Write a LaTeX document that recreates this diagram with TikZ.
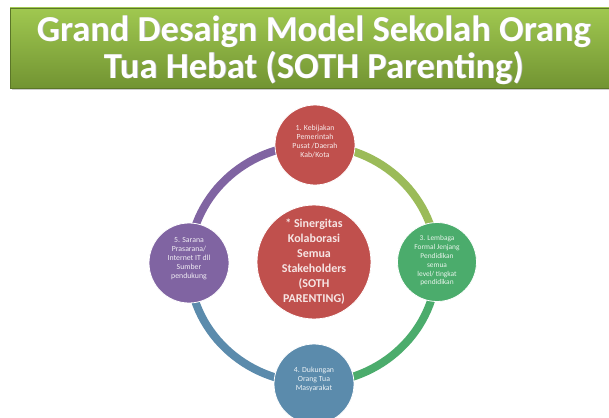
\documentclass[tikz,border=0pt]{standalone}
\usepackage{fontspec}
\setmainfont{Carlito}
\definecolor{cred}{RGB}{192,80,77}
\definecolor{colive}{RGB}{155,187,89}
\definecolor{cgreen}{RGB}{75,172,108}
\definecolor{cblue}{RGB}{91,139,172}
\definecolor{cpurple}{RGB}{128,100,162}
\definecolor{ttop}{RGB}{160,200,80}
\definecolor{tbot}{RGB}{114,148,50}
\tikzset{
  item/.style={circle, draw=white, line width=0.8pt, fill=#1, minimum size=80pt, inner sep=0pt},
  itemtext/.style={text=white!88!#1, font=\fontsize{7.8}{9}\selectfont, align=center, inner sep=0pt},
  seg/.style={line width=8pt, draw=#1},
}
\begin{document}
\begin{tikzpicture}[x=1pt,y=-1pt]
\useasboundingbox (0,0) rectangle (609,417);
\clip (0,0) rectangle (609,417);
\fill[white] (0,0) rectangle (609,417);
% title
\fill[black!20] (12,10) rectangle (611,90);
\shade[top color=ttop, bottom color=tbot, draw=tbot!80!black, line width=0.5pt] (10,8) rectangle (612,88) ;
\node[text=black!30, font=\bfseries\fontsize{36.5}{37}\selectfont, align=center] at (314.6,50.6)
  {Grand Desaign Model Sekolah Orang\\Tua Hebat (SOTH Parenting)};
\node (title)[text=white, font=\bfseries\fontsize{36.5}{37}\selectfont, align=center] at (313.8,49.8)
  {Grand Desaign Model Sekolah Orang\\Tua Hebat (SOTH Parenting)};
% ring
\coordinate (C) at (313,264);
\draw[seg=colive] (C) ++(-90:124 and 119) arc[start angle=-90, end angle=0, x radius=124, y radius=119];
\draw[seg=cgreen] (C) ++(0:124 and 119) arc[start angle=0, end angle=90, x radius=124, y radius=119];
\draw[seg=cblue] (C) ++(90:124 and 119) arc[start angle=90, end angle=180, x radius=124, y radius=119];
\draw[seg=cpurple] (C) ++(180:124 and 119) arc[start angle=180, end angle=270, x radius=124, y radius=119];
% nodes
\node (n1)[item=cred] at (315,145) {};
\node (t1)[itemtext=cred] at ([yshift=4pt]n1.center) {1. Kebijakan\\Pemerintah\\Pusat /Daerah\\Kab/Kota};
\node (n3)[item=cgreen, minimum size=79pt] at (437,262) {};
\node (t3)[itemtext=cgreen, font=\fontsize{7.4}{8.8}\selectfont] at ([yshift=1pt]n3.center) {3. Lembaga\\Formal Jenjang\\Pendidikan\\semua\\level/ tingkat\\pendidikan};
\node (n4)[item=cblue] at (314,384) {};
\node (t4)[itemtext=cblue] at ([yshift=5pt]n4.center) {4. Dukungan\\Orang Tua\\Masyarakat};
\node (n5)[item=cpurple] at (189,263) {};
\node (t5)[itemtext=cpurple] at ([yshift=4pt]n5.center) {5. Sarana\\Prasarana/\\Internet IT dll\\Sumber\\pendukung};
\node (c)[item=cred, minimum size=114pt] at (314,262) {};
\node (ct)[itemtext=cred, font=\bfseries\fontsize{12}{15}\selectfont, text=white!85!cred] at (c.center)
  {* Sinergitas\\Kolaborasi\\Semua\\Stakeholders\\(SOTH\\PARENTING)};
\end{tikzpicture}
\end{document}
